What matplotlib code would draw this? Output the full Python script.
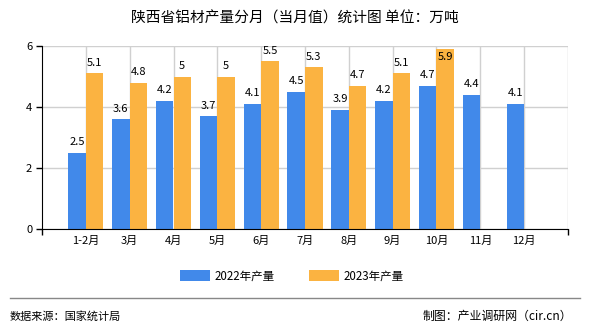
import matplotlib
matplotlib.use("Agg")
import matplotlib.pyplot as plt
from matplotlib.patches import Patch
from matplotlib.lines import Line2D

plt.rcParams['font.family'] = ['Noto Sans CJK SC', 'DejaVu Sans']

title = "陕西省铝材产量分月（当月值）统计图 单位：万吨"
months = ["1-2月", "3月", "4月", "5月", "6月", "7月", "8月", "9月", "10月", "11月", "12月"]
output_2022 = [2.5, 3.6, 4.2, 3.7, 4.1, 4.5, 3.9, 4.2, 4.7, 4.4, 4.1]
output_2023 = [5.1, 4.8, 5, 5, 5.5, 5.3, 4.7, 5.1, 5.9, None, None]
series_names = ["2022年产量", "2023年产量"]
y_ticks = [0, 2, 4, 6]
source_text = "数据来源：国家统计局"
credit_text = "制图：产业调研网（cir.cn）"

blue = "#4189ea"
orange = "#fbb341"

fig = plt.figure(figsize=(5.9, 3.3), dpi=100)
ax = fig.add_axes([42 / 590, 1 - 229 / 330, (568 - 42) / 590, (229 - 46) / 330])

pos = list(range(1, len(months) + 1))
w = 0.4


def fmt(v):
    return f"{v:g}"


def label(x, v):
    # values near the top of the scale get their label tucked inside the bar
    if v > 5.6:
        ax.annotate(fmt(v), (x, v), xytext=(0, -2), textcoords="offset points",
                    ha="center", va="top", fontsize=8)
    else:
        ax.annotate(fmt(v), (x, v), xytext=(0, 4), textcoords="offset points",
                    ha="center", va="bottom", fontsize=8)


for p, v in zip(pos, output_2022):
    ax.bar(p - w / 2, v, width=w, color=blue, zorder=3)
    label(p - w / 2, v)
for p, v in zip(pos, output_2023):
    if v is None:
        continue
    ax.bar(p + w / 2, v, width=w, color=orange, zorder=3)
    label(p + w / 2, v)

ax.set_xlim(0, len(months) + 1)
ax.set_ylim(0, 6)
ax.set_yticks(y_ticks)
ax.set_yticklabels([str(t) for t in y_ticks], fontsize=8)
ax.set_xticks(pos)
ax.set_xticklabels(months, fontsize=8)
ax.set_xticks([0] + pos + [len(months) + 1], minor=True)
ax.tick_params(axis="x", which="major", length=0, pad=5)
ax.tick_params(axis="x", which="minor", length=4, color="black", width=1)
ax.tick_params(axis="y", length=4, color="black", width=1, pad=3)

ax.grid(True, axis="y", color="#d0d0d0", linewidth=1, zorder=0)
for x in pos + [len(months) + 1]:
    ax.axvline(x, color="#d0d0d0", linewidth=1, zorder=0)

for s in ["top", "right"]:
    ax.spines[s].set_visible(False)
ax.spines["left"].set_color("black")
ax.spines["bottom"].set_color("black")
ax.spines["left"].set_zorder(4)
ax.spines["bottom"].set_zorder(4)

fig.text(0.5, 1 - 18 / 330, title, ha="center", va="center", fontsize=10.6)

handles = [Patch(facecolor=blue, edgecolor="none"), Patch(facecolor=orange, edgecolor="none")]
fig.legend(handles, series_names, loc="center", bbox_to_anchor=(0.495, 1 - 276 / 330),
           ncol=2, frameon=False, fontsize=8.3, handlelength=2.6, handleheight=1.0,
           columnspacing=3.0, handletextpad=0.4)

fig.add_artist(Line2D([10 / 590, 580 / 590], [1 - 298 / 330] * 2, color="#888888", linewidth=1))
fig.text(10 / 590, 1 - 316 / 330, source_text, ha="left", va="center", fontsize=8)
fig.text(572 / 590, 1 - 316 / 330, credit_text, ha="right", va="center", fontsize=8.6)

fig.savefig("out.png", dpi=100)
